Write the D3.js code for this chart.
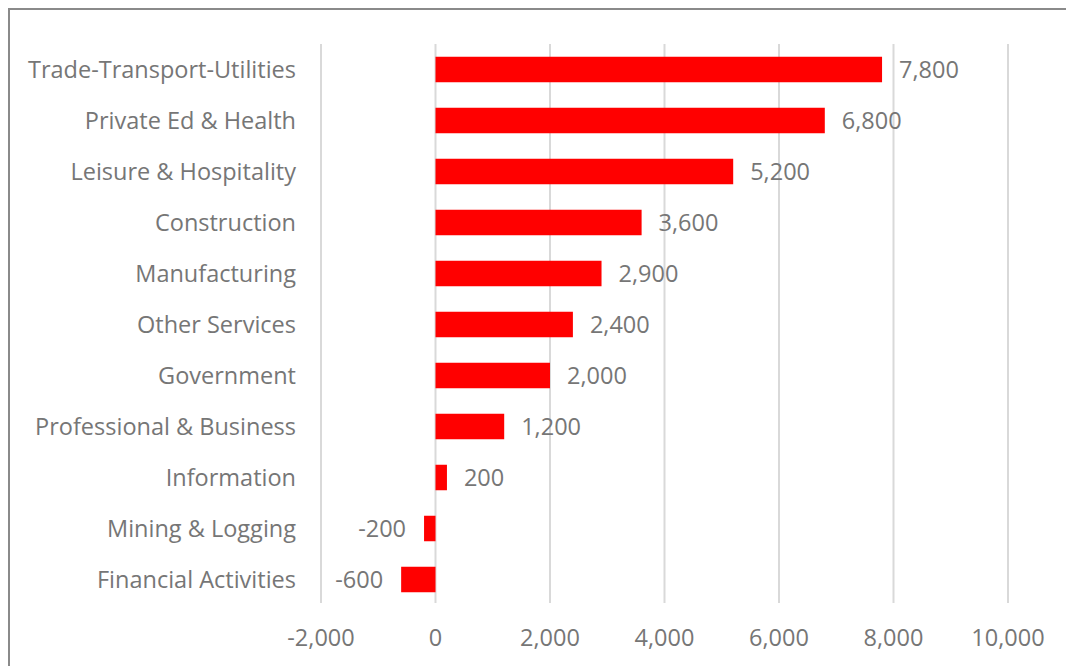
<!DOCTYPE html>
<html><head><meta charset="utf-8">
<script src="https://cdn.jsdelivr.net/npm/d3@7"></script>
<style>body{margin:0;background:#fff}svg{display:block}text{font-family:"Open Sans",Lato,sans-serif}</style>
</head><body>
<script>
const categories = ["Trade-Transport-Utilities","Private Ed & Health","Leisure & Hospitality","Construction","Manufacturing","Other Services","Government","Professional & Business","Information","Mining & Logging","Financial Activities"];
const values = [7800,6800,5200,3600,2900,2400,2000,1200,200,-200,-600];
const ticks = [-2000,0,2000,4000,6000,8000,10000];

const W=1066,H=666;
const svg=d3.select("body").append("svg").attr("width",W).attr("height",H);
svg.append("rect").attr("x",9).attr("y",9).attr("width",1070).attr("height",700).attr("fill","none").attr("stroke","#8a8a8a").attr("stroke-width",2);

const x=d3.scaleLinear().domain([-2000,10000]).range([321,1008]);
const y=d3.scaleBand().domain(categories).range([44,605]).paddingInner(0.5).paddingOuter(0.25);
const fmt=d3.formatLocale({decimal:".",thousands:",",grouping:[3],currency:["$",""],minus:"-"}).format(",");
const grey="#767676";
const fs=23.5;

svg.append("g").selectAll("line").data(ticks).join("line")
  .attr("x1",d=>x(d)).attr("x2",d=>x(d)).attr("y1",44).attr("y2",603)
  .attr("stroke","#d9d9d9").attr("stroke-width",2);

svg.append("g").selectAll("text").data(ticks).join("text")
  .attr("x",d=>x(d)).attr("y",646).attr("text-anchor","middle")
  .attr("font-size",fs).attr("fill",grey).text(d=>fmt(d));

svg.append("g").selectAll("rect").data(values).join("rect")
  .attr("x",d=>x(Math.min(0,d))).attr("width",d=>Math.abs(x(d)-x(0)))
  .attr("y",(d,i)=>y(categories[i])).attr("height",y.bandwidth())
  .attr("fill","#ff0000");

svg.append("g").selectAll("text").data(categories).join("text")
  .attr("x",296).attr("y",d=>y(d)+y.bandwidth()/2).attr("dy","0.35em")
  .attr("text-anchor","end").attr("font-size",fs).attr("fill",grey).text(d=>d);

svg.append("g").selectAll("text").data(values).join("text")
  .attr("x",d=>d>=0?x(d)+17:x(d)-18).attr("y",(d,i)=>y(categories[i])+y.bandwidth()/2).attr("dy","0.35em")
  .attr("text-anchor",d=>d>=0?"start":"end").attr("font-size",fs).attr("fill",grey).text(d=>fmt(d));
</script>
</body></html>
